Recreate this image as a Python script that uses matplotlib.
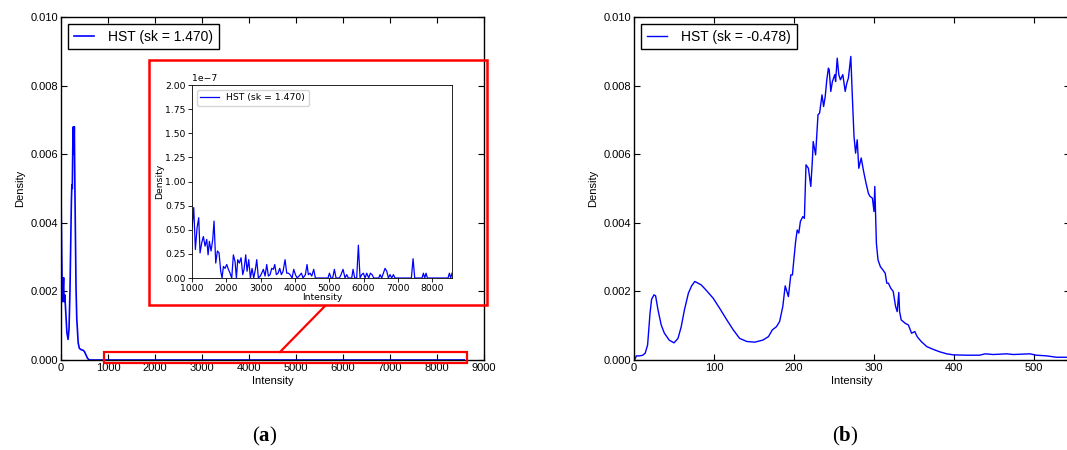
import matplotlib
matplotlib.use("Agg")
import matplotlib.pyplot as plt
from matplotlib.patches import Rectangle
from matplotlib.lines import Line2D
import numpy as np

plt.rcParams['font.family'] = ['Liberation Sans', 'DejaVu Sans']
plt.rcParams['mathtext.fontset'] = 'custom'
plt.rcParams['mathtext.bf'] = 'Liberation Serif:bold'

# ---- panel (a): density of the skewed image ----
head_x = [0, 15, 30, 45, 55, 65, 80, 100, 125, 150, 170, 190, 205, 220, 230,
          240, 250, 262, 270, 283, 295, 305, 312, 319, 335, 347, 365, 390,
          430, 475, 500, 531, 560, 590, 620, 1000]
head_y = [0.0048, 0.0030, 0.0017, 0.0021, 0.0024, 0.0017, 0.0019, 0.0014,
          0.0008, 0.0006, 0.0009, 0.0020, 0.0033, 0.0046, 0.0051, 0.0050,
          0.0062, 0.0068, 0.0060, 0.0068, 0.0050, 0.0039, 0.0030, 0.0021,
          0.0012, 0.0009, 0.0005, 0.00034, 0.00030, 0.00028, 0.00024,
          0.00015, 0.00006, 0.00001, 0.0, 0.0]

# tail (units of 1e-8)
tail_x = [1000, 1049, 1097, 1146, 1194, 1233, 1282, 1330, 1379, 1428, 1467,
          1505, 1554, 1603, 1641, 1690, 1739, 1787, 1836, 1875, 1914, 1962,
          2011, 2059, 2108, 2157, 2205, 2254, 2293, 2332, 2380, 2429, 2478,
          2516, 2565, 2604, 2653, 2701, 2750, 2798, 2847, 2886, 2934, 2983,
          3031, 3080, 3129, 3177, 3226, 3275, 3323, 3372, 3411, 3459, 3508,
          3556, 3605, 3654, 3712, 3761, 3809, 3858, 3917, 3965, 4014, 4063,
          4121, 4188, 4237, 4305, 4353, 4392, 4441, 4490, 4548, 4596, 4966,
          5005, 5053, 5101, 5150, 5199, 5296, 5345, 5403, 5461, 5510, 5558,
          5656, 5695, 5743, 5801, 5850, 5899, 5947, 5996, 6045, 6093, 6152,
          6200, 6249, 6298, 6443, 6482, 6531, 6579, 6628, 6677, 6725, 6774,
          6822, 6871, 6919, 7396, 7445, 7493, 7707, 7746, 7785, 7824, 7862,
          8465, 8504, 8543, 8580]
tail_e8 = [5.2, 7.3, 2.95, 5.2, 6.25, 2.6, 3.65, 4.3, 3.3, 4.0, 2.4,
           3.8, 2.8, 4.0, 5.9, 1.55, 2.8, 2.6, 0.7, 0.0, 1.2, 1.0,
           1.4, 0.9, 0.5, 0.0, 2.4, 1.7, 0.0, 1.9, 1.55, 2.1, 0.35,
           0.9, 2.4, 0.7, 1.9, 0.0, 1.0, 0.0, 0.9, 1.9, 0.0, 0.17,
           0.5, 0.9, 0.2, 1.4, 0.2, 0.35, 1.0, 0.9, 1.4, 0.35, 0.5,
           1.0, 0.35, 0.7, 1.9, 0.5, 0.5, 0.35, 0.0, 0.9, 0.35, 0.0,
           0.2, 0.5, 0.0, 0.35, 1.4, 0.35, 0.5, 0.2, 0.9, 0.0, 0.0,
           0.5, 0.0, 0.0, 0.9, 0.0, 0.0, 0.35, 0.9, 0.0, 0.35, 0.0,
           0.0, 0.9, 0.0, 0.0, 3.4, 0.0, 0.35, 0.5, 0.0, 0.5, 0.0,
           0.5, 0.35, 0.0, 0.0, 0.35, 0.0, 0.5, 1.0, 0.7, 0.0, 0.35,
           0.0, 0.35, 0.0, 0.0, 2.0, 0.0, 0.0, 0.5, 0.0, 0.5, 0.0,
           0.0, 0.5, 0.0, 0.5]
tail_y = [v * 1e-8 for v in tail_e8]

# ---- panel (b): density of the second image ----
b_x = [1, 3, 7, 11, 14, 17, 20, 22, 25, 27, 30, 34, 38, 44, 50, 55, 59, 63,
       68, 72, 76, 80, 84, 90, 99, 107, 116, 124, 132, 141, 151, 161, 168,
       173, 178, 182, 186, 189, 193, 196, 198, 200, 202, 204, 206, 208, 211,
       213, 215, 218, 221, 223, 224, 227, 230, 232, 235, 237, 239, 241, 243,
       244, 246, 248, 251, 252, 254, 256, 258, 261, 264, 266, 268, 271, 273,
       275, 277, 279, 281, 284, 287, 290, 293, 295, 298, 300, 301, 303, 305,
       308, 311, 314, 316, 318, 321, 324, 327, 329, 331, 332, 334, 339, 343,
       347, 351, 354, 359, 366, 374, 382, 391, 399, 416, 432, 439, 449, 466,
       474, 495, 503, 516, 528, 545]
b_y = [0.00002, 0.00012, 0.00012, 0.00014, 0.0002, 0.00044, 0.00136,
       0.00177, 0.0019, 0.00187, 0.00146, 0.00102, 0.00078, 0.00058, 0.0005,
       0.00063, 0.00097, 0.00146, 0.00195, 0.00216, 0.00229, 0.00224,
       0.00219, 0.00204, 0.0018, 0.00151, 0.00117, 0.00088, 0.00063, 0.00054,
       0.00052, 0.00058, 0.00068, 0.00088, 0.00097, 0.00112, 0.00156,
       0.00216, 0.00185, 0.00248, 0.00248, 0.00297, 0.00345, 0.00379,
       0.0037, 0.00404, 0.00418, 0.00413, 0.00569, 0.00559, 0.00506, 0.00584,
       0.00637, 0.00598, 0.00715, 0.0072, 0.00773, 0.00739, 0.00768, 0.00817,
       0.00851, 0.00846, 0.00783, 0.00812, 0.00832, 0.00812, 0.0088, 0.00832,
       0.00817, 0.00832, 0.00783, 0.00807, 0.00822, 0.00885, 0.00764,
       0.00652, 0.00603, 0.00642, 0.00559, 0.00589, 0.0055, 0.00516, 0.00486,
       0.00477, 0.00472, 0.00433, 0.00506, 0.0034, 0.00292, 0.00272, 0.00263,
       0.00253, 0.00224, 0.00224, 0.00209, 0.002, 0.00156, 0.00141, 0.00197,
       0.00141, 0.00117, 0.00107, 0.00102, 0.00078, 0.00083, 0.00068,
       0.00054, 0.00039, 0.00031, 0.00024, 0.00018, 0.00015, 0.00014,
       0.00014, 0.00018, 0.00016, 0.00018, 0.00016, 0.00018, 0.00014,
       0.00012, 0.00008, 0.00008]

label_a = "HST (sk = 1.470)"
label_b = "HST (sk = -0.478)"

a_x = head_x + tail_x
a_y = head_y + tail_y


def classic_axes(ax):
    ax.tick_params(direction='in', top=True, right=True, labelsize=8,
                   length=4, width=0.8, pad=2)
    for s in ax.spines.values():
        s.set_linewidth(1.0)
    ax.set_xlabel("Intensity", fontsize=8, labelpad=2)
    ax.set_ylabel("Density", fontsize=8, labelpad=4)


fig = plt.figure(figsize=(10.67, 4.5), dpi=100)

ax1 = fig.add_axes([0.0572, 0.2, 0.3964, 0.7622])
ax1.plot(a_x, a_y, color='b', lw=1.2, label=label_a)
ax1.set_xlim(0, 9000)
ax1.set_ylim(0, 0.010)
ax1.set_xticks(np.arange(0, 9001, 1000))
ax1.set_yticks(np.arange(0, 0.0101, 0.002))
ax1.yaxis.set_major_formatter(plt.FormatStrFormatter('%.3f'))
classic_axes(ax1)
ax1.legend(loc='upper left', fontsize=10, fancybox=False, framealpha=1,
           edgecolor='black', handlelength=1.5, handletextpad=1.0,
           borderpad=0.4, borderaxespad=0.5).get_frame().set_linewidth(1.0)

# zoom rectangle on panel (a)
ax1.add_patch(Rectangle((920, -0.0001), 7720, 0.00033, fill=False,
                        edgecolor='red', lw=1.6, clip_on=False, zorder=5))

# inset frame and connector in figure coordinates
fig.add_artist(Rectangle((0.1396, 0.3222), 0.3168, 0.5444, fill=False,
                         edgecolor='red', lw=1.8, transform=fig.transFigure))
fig.add_artist(Line2D([280 / 1067, 325 / 1067], [1 - 352 / 450, 1 - 306 / 450],
                      color='red', lw=1.6, transform=fig.transFigure))

ins = fig.add_axes([0.18, 0.3822, 0.2437, 0.4289])
ins.plot(tail_x, tail_y, color='b', lw=0.9, label=label_a)
ins.set_xlim(1000, 8583)
ins.set_ylim(0, 2e-7)
ins.set_xticks(np.arange(1000, 8001, 1000))
ins.set_yticks(np.arange(0, 2.01e-7, 0.25e-7))
ins.tick_params(labelsize=6.7, length=3, width=0.6, pad=1.5)
for s in ins.spines.values():
    s.set_linewidth(0.6)
ins.yaxis.get_offset_text().set_fontsize(6.7)
ins.set_xlabel("Intensity", fontsize=6.7, labelpad=0, family='DejaVu Sans')
ins.set_ylabel("Density", fontsize=6.7, labelpad=1, family='DejaVu Sans')
for t in ins.get_xticklabels() + ins.get_yticklabels():
    t.set_family('DejaVu Sans')
ins.yaxis.get_offset_text().set_family('DejaVu Sans')
ins.legend(loc='upper left', prop={'family': 'DejaVu Sans', 'size': 6.7},
           handlelength=2.0, borderpad=0.4)

ax2 = fig.add_axes([0.5942, 0.2, 0.4086, 0.7622])
ax2.plot(b_x, b_y, color='b', lw=1.0, label=label_b)
ax2.set_xlim(0, 545)
ax2.set_ylim(0, 0.010)
ax2.set_xticks(np.arange(0, 501, 100))
ax2.set_yticks(np.arange(0, 0.0101, 0.002))
ax2.yaxis.set_major_formatter(plt.FormatStrFormatter('%.3f'))
classic_axes(ax2)
ax2.legend(loc='upper left', fontsize=10, fancybox=False, framealpha=1,
           edgecolor='black', handlelength=1.5, handletextpad=1.0,
           borderpad=0.4, borderaxespad=0.5).get_frame().set_linewidth(1.0)

fig.text(265 / 1067, 1 - 436 / 450, r'($\mathbf{a}$)', ha='center',
         va='center', fontsize=15, family='Liberation Serif')
fig.text(845 / 1067, 1 - 436 / 450, r'($\mathbf{b}$)', ha='center',
         va='center', fontsize=15, family='Liberation Serif')

fig.savefig("out.png", dpi=100)
